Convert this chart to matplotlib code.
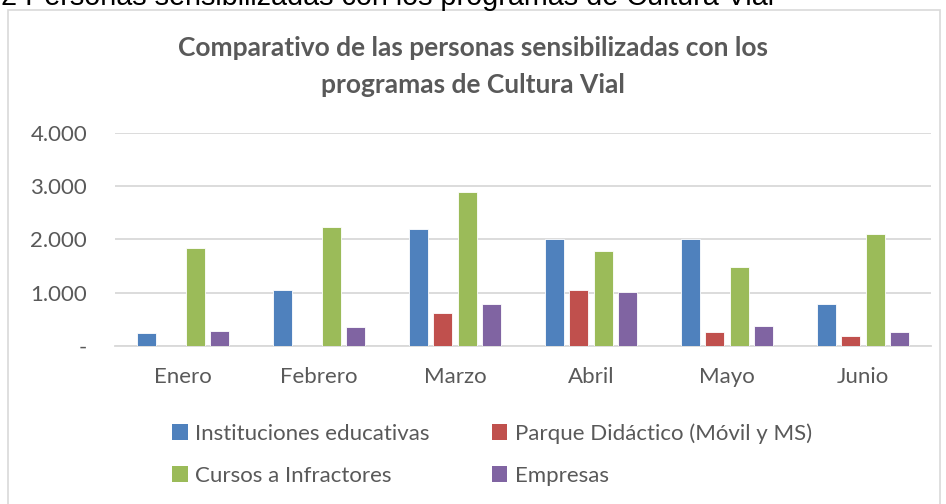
import matplotlib.pyplot as plt
import numpy as np
from matplotlib.patches import Rectangle, Patch
from matplotlib.ticker import FixedLocator

plt.rcParams['font.family'] = ['Lato', 'DejaVu Sans']

meses = ['Enero', 'Febrero', 'Marzo', 'Abril', 'Mayo', 'Junio']
series = ['Instituciones educativas', 'Parque Didáctico (Móvil y MS)',
          'Cursos a Infractores', 'Empresas']
instituciones = [240, 1045, 2195, 2000, 2005, 790]
parque = [0, 0, 620, 1050, 270, 180]
cursos = [1835, 2230, 2895, 1775, 1480, 2095]
empresas = [280, 360, 780, 1005, 375, 270]
colores = ['#4F81BD', '#C0504D', '#9BBB59', '#8064A2']

gris = '#595959'

fig = plt.figure(figsize=(9.46, 5.04), dpi=100)

# caption above the chart box, cut at the top edge
fig.text(-15/946, 1 - 5/504, '12 Personas sensibilizadas con los programas de Cultura Vial',
         fontsize=20.7, family=['Liberation Sans', 'DejaVu Sans'], color='black',
         va='baseline', ha='left')

# chart box
fig.add_artist(Rectangle((8/946, -0.05), (940-8)/946, 1.05 - 10/504,
                         transform=fig.transFigure, fill=False,
                         edgecolor='#D9D9D9', linewidth=1.2))

ax = fig.add_axes([115/946, 1 - 346/504, (931-115)/946, (346-132.7)/504])

x = np.arange(len(meses))
ancho = 0.14
paso = 0.18
for i, (vals, c) in enumerate(zip([instituciones, parque, cursos, empresas], colores)):
    ax.bar(x + (i - 1.5)*paso, vals, ancho, color=c, edgecolor='white',
           linewidth=0.6, zorder=3)

ax.set_xlim(-0.5, len(meses) - 0.5)
ax.set_ylim(0, 4000)
ax.yaxis.set_major_locator(FixedLocator([0, 1000, 2000, 3000, 4000]))
ax.set_yticklabels(['-', '1.000', '2.000', '3.000', '4.000'])
ax.set_xticks(x)
ax.set_xticklabels(meses)
ax.grid(axis='y', color='#D9D9D9', linewidth=1.3, zorder=0)
for s in ['top', 'right', 'left']:
    ax.spines[s].set_visible(False)
ax.spines['bottom'].set_color('#D9D9D9')
ax.spines['bottom'].set_linewidth(1.3)
ax.tick_params(axis='both', length=0, labelsize=16, labelcolor=gris)
ax.tick_params(axis='y', pad=20)
ax.tick_params(axis='x', pad=15)

fig.text(473/946, 1 - 66.5/504,
         'Comparativo de las personas sensibilizadas con los\nprogramas de Cultura Vial',
         ha='center', va='center', fontsize=19, fontweight='bold', color=gris,
         linespacing=1.65)

handles = [Patch(facecolor=c, edgecolor='none') for c in colores]
# order so that columns read across rows
orden = [0, 2, 1, 3]
fig.legend([handles[k] for k in orden], [series[k] for k in orden],
           loc='upper left', bbox_to_anchor=(152/946, 1 - 403/504), ncol=2,
           frameon=False, fontsize=16, labelcolor=gris, handlelength=0.7,
           handleheight=0.7, handletextpad=0.35, columnspacing=2.78,
           labelspacing=1.0)

fig.savefig('out.png', dpi=100)
